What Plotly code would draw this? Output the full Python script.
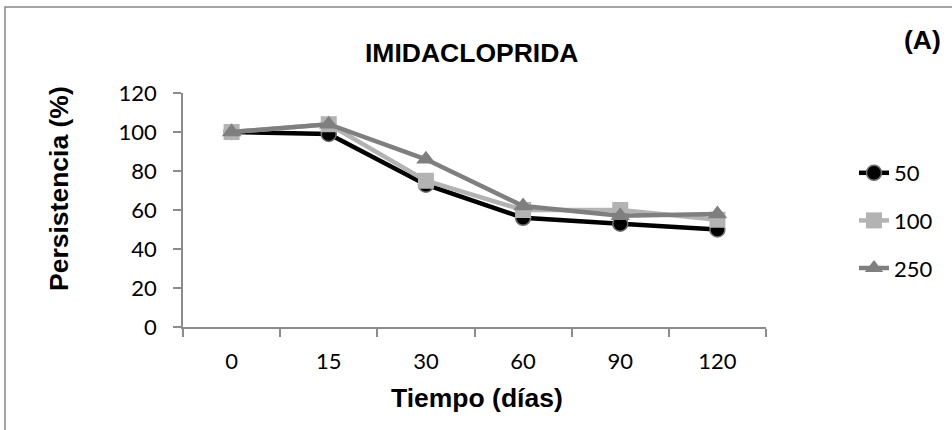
import plotly.graph_objects as go

categories = ["0", "15", "30", "60", "90", "120"]
series_names = ["50", "100", "250"]
values_50 = [100, 99, 73, 56, 53, 50]
values_100 = [100, 104, 75, 60, 60, 55]
values_250 = [100, 104, 86, 62, 57, 58]
y_ticks = [0, 20, 40, 60, 80, 100, 120]

W, H = 952, 430
L, R, T, B = 183, 186, 93, 103
PW, PH = W - L - R, H - T - B

def px(x):
    return (x - L) / PW

def py(y):
    return (H - B - y) / PH

tick_font = dict(family="Lato, Open Sans, sans-serif", size=22, color="black")
bold_font = dict(family="Liberation Sans, Arial, sans-serif", size=26.5, color="black", weight="bold")

fig = go.Figure()
fig.add_trace(go.Scatter(
    x=categories, y=values_50, name=series_names[0], mode="lines+markers",
    line=dict(color="black", width=4.5),
    marker=dict(symbol="circle", size=15, color="black", line=dict(color="#6e6e6e", width=1.5)),
    legendgroup="a"))
fig.add_trace(go.Scatter(
    x=categories, y=values_100, name=series_names[1], mode="lines+markers",
    line=dict(color="#b3b3b3", width=4.5),
    marker=dict(symbol="square", size=16, color="#b3b3b3"),
    legendgroup="b"))
fig.add_trace(go.Scatter(
    x=categories, y=values_250, name=series_names[2], mode="lines+markers",
    line=dict(color="#7f7f7f", width=4.5),
    marker=dict(symbol="triangle-up", size=17, color="#7f7f7f"),
    legendgroup="c"))

axis_col = "#8c8c8c"
fig.update_layout(
    width=W, height=H,
    margin=dict(l=L, r=R, t=T, b=B, autoexpand=False),
    paper_bgcolor="white", plot_bgcolor="white",
    showlegend=True,
    legend=dict(x=px(854), y=py(152), xanchor="left", yanchor="top",
                font=tick_font, tracegroupgap=16, bgcolor="rgba(0,0,0,0)"),
    xaxis=dict(type="category", categoryorder="array", categoryarray=categories,
               range=[-0.5, len(categories) - 0.5],
               showline=True, linecolor=axis_col, linewidth=1.5,
               ticks="outside", ticklen=8, tickcolor=axis_col, tickwidth=1.5,
               tickson="boundaries", showgrid=False, zeroline=False,
               tickfont=tick_font, ticklabelstandoff=14),
    yaxis=dict(range=[0, 120], tickvals=y_ticks, showline=True, linecolor=axis_col,
               linewidth=1.5, ticks="outside", ticklen=8, tickcolor=axis_col, tickwidth=1.5,
               showgrid=False, zeroline=False, tickfont=tick_font, ticklabelstandoff=12),
    shapes=[dict(type="rect", xref="paper", yref="paper",
                 x0=px(5), x1=px(1000), y0=py(480), y1=py(7),
                 line=dict(color="#868686", width=1.5), fillcolor="rgba(0,0,0,0)", layer="below")],
    annotations=[
        dict(text="IMIDACLOPRIDA", x=px(471), y=py(53), xref="paper", yref="paper",
             showarrow=False, font=bold_font, xanchor="center", yanchor="middle"),
        dict(text="(A)", x=px(922), y=py(40), xref="paper", yref="paper",
             showarrow=False, font=bold_font, xanchor="center", yanchor="middle"),
        dict(text="Persistencia (%)", x=px(59), y=py(189), xref="paper", yref="paper",
             showarrow=False, font=bold_font, textangle=-90, xanchor="center", yanchor="middle"),
        dict(text="Tiempo (días)", x=px(477), y=py(398), xref="paper", yref="paper",
             showarrow=False, font=bold_font, xanchor="center", yanchor="middle"),
    ],
)

fig.write_html("out.html", config={"displayModeBar": False},
               post_script="document.body.style.margin='0';document.body.style.overflow='hidden';")
